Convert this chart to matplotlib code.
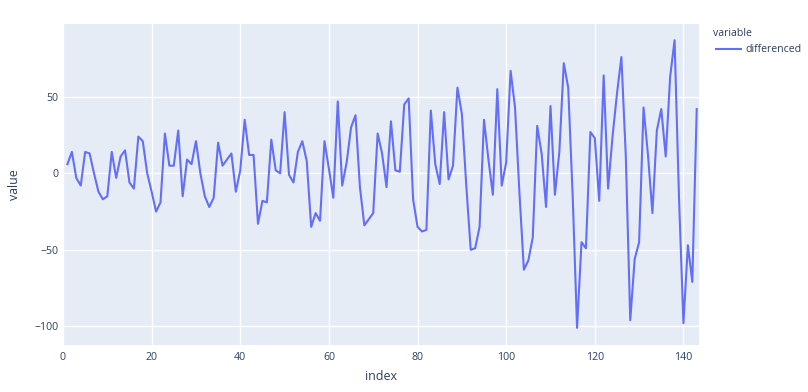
import matplotlib
matplotlib.use("Agg")
import matplotlib.pyplot as plt
import numpy as np

index = list(range(1, 144))
differenced = [6, 14, -3, -8, 14, 13, 0, -12, -17, -15, 14, -3, 11, 15, -6, -10, 24, 21, 0, -12,
               -25, -19, 26, 5, 5, 28, -15, 9, 6, 21, 0, -15, -22, -16, 20, 5, 9, 13, -12, 2,
               35, 12, 12, -33, -18, -19, 22, 2, 0, 40, -1, -6, 14, 21, 8, -35, -26, -31, 21, 3,
               -16, 47, -8, 7, 30, 38, -9, -34, -30, -26, 26, 13, -9, 34, 2, 1, 45, 49, -17, -35,
               -38, -37, 41, 6, -7, 40, -4, 5, 56, 39, -8, -50, -49, -35, 35, 9, -14, 55, -8, 7,
               67, 43, -13, -63, -57, -42, 31, 13, -22, 44, -14, 14, 72, 56, -14, -101, -45, -49, 27, 23,
               -18, 64, -10, 24, 52, 76, 11, -96, -56, -45, 43, 12, -26, 28, 42, 11, 63, 87, -16, -98,
               -47, -71, 42]
x_ticks = [0, 20, 40, 60, 80, 100, 120, 140]
y_ticks = [-100, -50, 0, 50]
y_tick_labels = ["\u2212100", "\u221250", "0", "50"]
series_name = "differenced"
legend_title = "variable"

plt.rcParams['font.family'] = ['Open Sans', 'DejaVu Sans']
txt = "#2a3f5f"
W, H = 808, 392
fig = plt.figure(figsize=(W / 100, H / 100), dpi=100)
l, r, t, b = 63, 698.5, 24, 345
ax = fig.add_axes([l / W, (H - b) / H, (r - l) / W, (b - t) / H])
ax.set_facecolor("#E5ECF6")
for s in ax.spines.values():
    s.set_visible(False)
ax.plot(index, differenced, color="#636efa", lw=1.5, zorder=3)
ax.set_xlim(0, 143.4)
ax.set_ylim(-112.2, 97.6)
ax.set_xticks(x_ticks)
ax.set_yticks(y_ticks)
ax.set_yticklabels(y_tick_labels)
ax.grid(True, color="white", lw=1.0, zorder=0)
ax.set_axisbelow(True)
ax.tick_params(length=0, labelsize=7.6, colors=txt, pad=3)
ax.tick_params(axis='x', pad=5)
ax.set_xlabel("index", fontsize=8.9, color=txt, labelpad=5)
ax.set_ylabel("value", fontsize=8.9, color=txt, labelpad=10)

# legend
fig.text(713 / W, 1 - 33 / H, legend_title, fontsize=7.6, color=txt, va="center", ha="left")
fig.add_artist(plt.Line2D([716 / W, 741 / W], [1 - 49 / H, 1 - 49 / H], color="#636efa", lw=1.5))
fig.text(745 / W, 1 - 49 / H, series_name, fontsize=7.6, color=txt, va="center", ha="left")

fig.savefig("out.png", dpi=100)
